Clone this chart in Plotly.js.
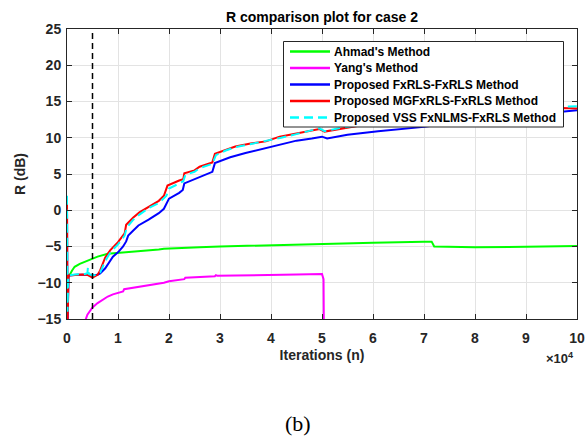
<!DOCTYPE html>
<html>
<head>
<meta charset="utf-8">
<script src="https://cdn.plot.ly/plotly-3.0.1.min.js"></script>
<style>html,body{margin:0;padding:0;background:#fff;}#chart{width:587px;height:436px;}</style>
</head>
<body>
<div id="chart"></div>
<script>
// Series names
const seriesNames = ["Ahmad's Method", "Yang's Method", "Proposed FxRLS-FxRLS Method", "Proposed MGFxRLS-FxRLS Method", "Proposed VSS FxNLMS-FxRLS Method"];
const seriesColors = ["#00ff00", "#ff00ff", "#0000ff", "#ff0000", "#00ffff"];

// Ahmad's Method
const ahmadX = [0, 300, 1000, 1500, 2500, 3500, 4500, 5000, 6000, 8000, 10000, 13000, 16000, 18000, 19000, 22000, 26000, 30000, 40000, 50000, 60000, 70000, 71500, 72000, 80000, 90000, 100000];
const ahmadY = [-10, -9.2, -8.3, -7.8, -7.4, -7.1, -6.8, -6.6, -6.4, -6.0, -5.9, -5.7, -5.5, -5.4, -5.3, -5.25, -5.1, -5.0, -4.8, -4.65, -4.47, -4.33, -4.33, -5.0, -5.1, -5.03, -4.93];

// Yang's Method
const yangX = [0, 200, 3000, 3700, 4000, 5000, 6000, 7000, 8000, 9000, 10000, 11000, 11200, 13000, 15000, 17000, 19000, 20000, 22000, 23000, 23200, 26000, 29000, 29200, 29500, 33000, 38000, 45000, 50000, 50300, 50500, 100000];
const yangY = [-9.5, -20, -18, -15, -14.4, -13.4, -12.8, -12.3, -11.9, -11.6, -11.4, -11.2, -10.9, -10.7, -10.4, -10.2, -10.0, -9.8, -9.6, -9.5, -9.3, -9.2, -9.1, -8.95, -9.05, -9.0, -8.9, -8.85, -8.8, -9.5, -30, -30];

// Proposed FxRLS-FxRLS Method
const fxrlsX = [0, 100, 300, 2000, 4000, 5000, 6000, 6500, 7500, 8000, 9000, 10000, 11000, 11600, 12000, 13000, 14000, 16000, 18000, 19000, 19500, 20000, 22000, 22700, 23000, 25000, 26000, 28500, 29000, 30000, 32000, 35000, 39000, 42000, 45000, 48000, 50000, 51000, 55000, 61000, 70000, 80000, 90000, 97000, 100000];
const fxrlsY = [0.5, -16, -9.0, -8.9, -8.9, -9.0, -8.9, -8.7, -8.0, -7.4, -6.4, -5.8, -5.0, -4.3, -3.5, -2.8, -2.1, -1.3, -0.4, 0.2, 1.0, 1.6, 2.4, 2.8, 3.7, 4.3, 4.6, 5.3, 6.5, 6.8, 7.3, 7.9, 8.55, 9.1, 9.6, 9.9, 10.15, 9.9, 10.4, 10.9, 11.5, 12.4, 13.1, 13.55, 13.8];

// Proposed MGFxRLS-FxRLS Method
const mgfxrlsX = [0, 100, 300, 1500, 3000, 4000, 5000, 6000, 6500, 7500, 8500, 10000, 11300, 11600, 13000, 14200, 16000, 18000, 19000, 19700, 22000, 22800, 23000, 25000, 26000, 28500, 29000, 31000, 33000, 36000, 39000, 41700, 45000, 48000, 49500, 50500, 54000, 60000, 70000, 80000, 90000, 97000, 100000];
const mgfxrlsY = [1.2, -16, -9.0, -8.9, -8.85, -8.9, -9.3, -8.9, -8.3, -6.5, -5.5, -4.4, -3.2, -2.0, -1.0, -0.3, 0.5, 1.3, 2.0, 3.4, 4.1, 4.3, 5.1, 5.5, 6.0, 6.6, 7.8, 8.3, 8.8, 9.2, 9.5, 10.15, 10.6, 11.0, 11.2, 10.85, 11.3, 12.0, 12.8, 13.4, 13.8, 14.1, 14.05];

// Proposed VSS FxNLMS-FxRLS Method
const vssX = [0, 100, 250, 1500, 3500, 4000, 4100, 4300, 5000, 6000, 6500, 7500, 8500, 10000, 11300, 11700, 13000, 14200, 16000, 18000, 19500, 20000, 22000, 22800, 23200, 25000, 26000, 28500, 29200, 31000, 33000, 36000, 39000, 42000, 45000, 48000, 49500, 50500, 54000, 60000, 70000, 80000, 90000, 97000, 100000];
const vssY = [2.0, -14, -9.0, -8.85, -8.8, -8.7, -7.9, -8.8, -9.0, -8.9, -8.6, -7.0, -5.8, -4.7, -3.5, -2.4, -1.3, -0.6, 0.3, 1.0, 2.0, 3.0, 3.7, 4.0, 4.9, 5.3, 5.8, 6.4, 7.6, 8.2, 8.7, 9.1, 9.5, 10.0, 10.5, 11.0, 11.3, 10.9, 11.4, 12.0, 12.9, 13.5, 13.9, 14.3, 14.35];

// Vertical marker (iteration)
const markerIteration = 5000;

// Axis ticks
const xTickVals = [0, 10000, 20000, 30000, 40000, 50000, 60000, 70000, 80000, 90000, 100000];
const xTickText = ["0", "1", "2", "3", "4", "5", "6", "7", "8", "9", "10"];
const yTickVals = [-15, -10, -5, 0, 5, 10, 15, 20, 25];

const fontFam = "Liberation Sans, Arial, sans-serif";
const axisColor = "#262626";
const vssDash = "9px,5px";

const seriesX = [ahmadX, yangX, fxrlsX, mgfxrlsX, vssX];
const seriesY = [ahmadY, yangY, fxrlsY, mgfxrlsY, vssY];

const traces = seriesNames.map((name, i) => ({
  x: seriesX[i], y: seriesY[i], name: name, mode: "lines", showlegend: false,
  line: {color: seriesColors[i], width: 2, dash: i === 4 ? vssDash : "solid"}
}));

// plot area geometry (pixels) for converting the legend box position
const M = {l: 67, r: 10, t: 29, b: 117};
const PW = 587 - M.l - M.r, PH = 436 - M.t - M.b;
const px = v => (v - M.l) / PW;
const py = v => (436 - M.b - v) / PH;

const shapes = [
  {type: "line", xref: "x", yref: "y", x0: markerIteration, x1: markerIteration, y0: -15, y1: 25, line: {color: "#000000", width: 1.5, dash: "6px,4px"}},
  {type: "rect", xref: "paper", yref: "paper", x0: px(283.5), x1: px(563.5), y0: py(41.5), y1: py(127), fillcolor: "#ffffff", line: {color: axisColor, width: 1}}
];
const annotations = [];
seriesNames.forEach((name, i) => {
  const rowY = 51.5 + i * 16.5;
  shapes.push({type: "line", xref: "paper", yref: "paper", x0: px(290), x1: px(330), y0: py(rowY), y1: py(rowY),
    line: {color: seriesColors[i], width: 2.5, dash: i === 4 ? vssDash : "solid"}});
  annotations.push({text: name, xref: "paper", yref: "paper", x: px(332), y: py(rowY), xanchor: "left", yanchor: "middle",
    showarrow: false, font: {family: fontFam, size: 12, weight: "bold", color: "#000000"}});
});
annotations.push({text: "×10<sup>4</sup>", xref: "paper", yref: "paper", x: px(576), y: py(358), xanchor: "right", yanchor: "middle", showarrow: false, font: {family: fontFam, size: 13, weight: "bold", color: axisColor}});
annotations.push({text: "(b)", xref: "paper", yref: "paper", x: px(298), y: py(423), xanchor: "center", yanchor: "middle", showarrow: false, font: {family: "Liberation Serif, Times New Roman, serif", size: 22, color: "#000000"}});

const layout = {
  width: 587, height: 436,
  margin: {l: M.l, r: M.r, t: M.t, b: M.b, pad: 0},
  paper_bgcolor: "#ffffff", plot_bgcolor: "#ffffff",
  font: {family: fontFam, color: axisColor},
  title: {text: "R comparison plot for case 2", font: {family: fontFam, size: 14, weight: "bold", color: "#000000"}, x: px(322), xref: "paper", xanchor: "center", y: 1, yref: "paper", yanchor: "bottom", pad: {b: 7}},
  xaxis: {
    range: [0, 100000], tickvals: xTickVals, ticktext: xTickText,
    showgrid: true, gridcolor: "#e3e3e3", gridwidth: 1, zeroline: false,
    showline: true, linecolor: axisColor, linewidth: 1, mirror: "allticks",
    ticks: "inside", ticklen: 5, tickcolor: axisColor, ticklabelstandoff: 6,
    tickfont: {family: fontFam, size: 14, weight: "bold", color: axisColor},
    title: {text: "Iterations (n)", font: {family: fontFam, size: 14, weight: "bold", color: axisColor}, standoff: 5}
  },
  yaxis: {
    range: [-15, 25], tickvals: yTickVals,
    showgrid: true, gridcolor: "#e3e3e3", gridwidth: 1, zeroline: false,
    showline: true, linecolor: axisColor, linewidth: 1, mirror: "allticks",
    ticks: "inside", ticklen: 5, tickcolor: axisColor, ticklabelstandoff: 2,
    tickfont: {family: fontFam, size: 14, weight: "bold", color: axisColor},
    title: {text: "R (dB)", font: {family: fontFam, size: 14, weight: "bold", color: axisColor}, standoff: 8}
  },
  shapes: shapes,
  annotations: annotations,
  showlegend: false
};

Plotly.newPlot("chart", traces, layout, {displayModeBar: false, staticPlot: true});
</script>
</body>
</html>
